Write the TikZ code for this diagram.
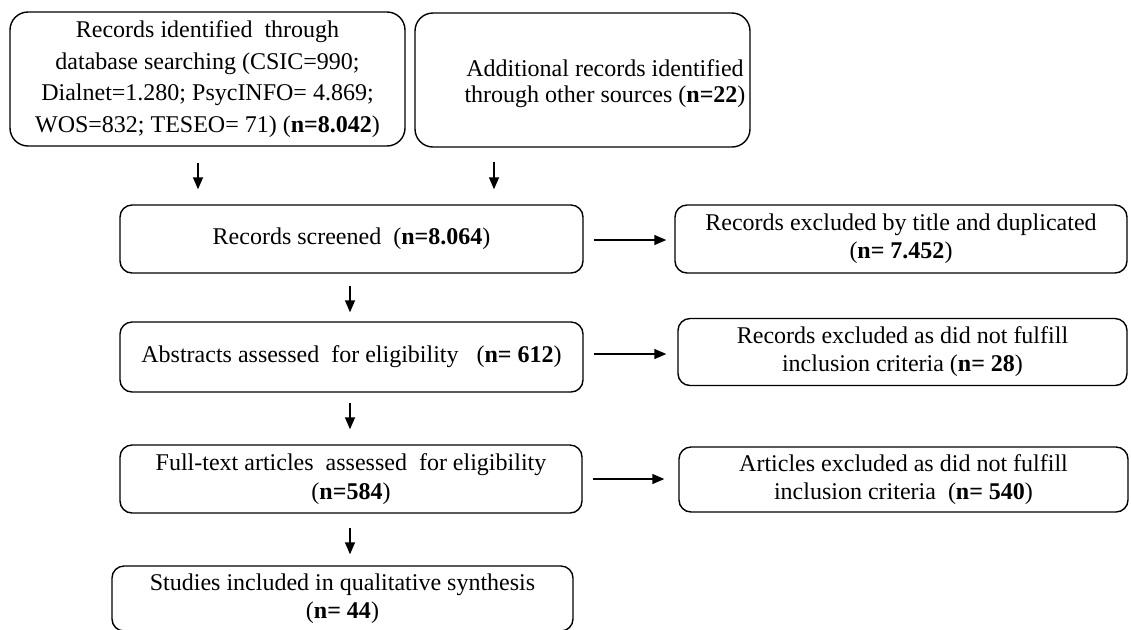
\documentclass[tikz,border=0pt]{standalone}
\usepackage{fontspec}
\setmainfont{Liberation Serif}
\usetikzlibrary{arrows.meta}
\begin{document}
\begin{tikzpicture}[x=0.5pt,y=-0.5pt,
  box/.style={draw, line width=0.7pt, rounded corners=6pt, align=center, inner sep=0pt},
  bigbox/.style={box, rounded corners=9pt},
  txt/.style={align=center, inner sep=0pt},
  arr/.style={line width=0.7pt, -{Triangle[length=6pt,width=5pt]}},
  font=\fontsize{12}{14}\selectfont]
\useasboundingbox (0,0) rectangle (1131,629);
% boxes
\node[bigbox, minimum width=197.5pt, minimum height=67pt, font=\fontsize{12}{15.8}\selectfont] (A) at (207.5,79)
  {Records identified\ \ through\\database searching (CSIC=990;\\Dialnet=1.280; PsycINFO= 4.869;\\WOS=832; TESEO= 71) (\textbf{n=8.042})};
\node[bigbox, minimum width=167.5pt, minimum height=67pt] (B) at (582.5,80) {};
\node[txt, font=\fontsize{12}{13}\selectfont] (Bt) at (605,84)
  {Additional records identified\\through other sources (\textbf{n=22})};
\node[box, minimum width=231.5pt, minimum height=34pt] (C) at (351.5,239)
  {Records screened\ \ (\textbf{n=8.064})};
\node[box, minimum width=231.5pt, minimum height=35pt] (D) at (351.5,357)
  {Abstracts assessed\ \ for eligibility\ \ \ (\textbf{n= 612})};
\node[box, minimum width=231pt, minimum height=34pt] (E) at (351,479)
  {Full-text articles\ \ assessed\ \ for eligibility\\[0.5pt](\textbf{n=584})};
\node[box, minimum width=230.5pt, minimum height=32.5pt] (I) at (342.5,598.5)
  {Studies included in qualitative synthesis\\(\textbf{n= 44})};
\node[box, minimum width=226pt, minimum height=34pt] (F) at (901,239)
  {Records excluded by title and duplicated\\(\textbf{n= 7.452})};
\node[box, minimum width=224.5pt, minimum height=33.5pt] (G) at (902.5,352)
  {Records excluded as did not fulfill\\inclusion criteria (\textbf{n= 28})};
\node[box, minimum width=224.5pt, minimum height=32.5pt] (H) at (903.5,479.5)
  {Articles excluded as did not fulfill\\inclusion criteria\ \ (\textbf{n= 540})};
% arrow columns
\coordinate (xa) at (198,0);
\coordinate (xb) at (494,0);
\coordinate (xm) at (350,0);
\coordinate (yf) at (0,240);
\coordinate (yg) at (0,354);
\coordinate (yh) at (0,479);
% arrows
\draw[arr, shorten <=8pt, shorten >=7.5pt] (A.south -| xa) -- (C.north -| xa);
\draw[arr, shorten <=7pt, shorten >=7.5pt] (B.south -| xb) -- (C.north -| xb);
\draw[arr, shorten <=6pt, shorten >=4.5pt] (C.south -| xm) -- (D.north -| xm);
\draw[arr, shorten <=5pt, shorten >=7.5pt] (D.south -| xm) -- (E.north -| xm);
\draw[arr, shorten <=7pt, shorten >=5.5pt] (E.south -| xm) -- (I.north -| xm);
\draw[arr, shorten <=5pt, shorten >=4pt] (C.east |- yf) -- (F.west |- yf);
\draw[arr, shorten <=5pt, shorten >=5.5pt] (D.east |- yg) -- (G.west |- yg);
\draw[arr, shorten <=5pt, shorten >=7pt] (E.east |- yh) -- (H.west |- yh);
\end{tikzpicture}
\end{document}
